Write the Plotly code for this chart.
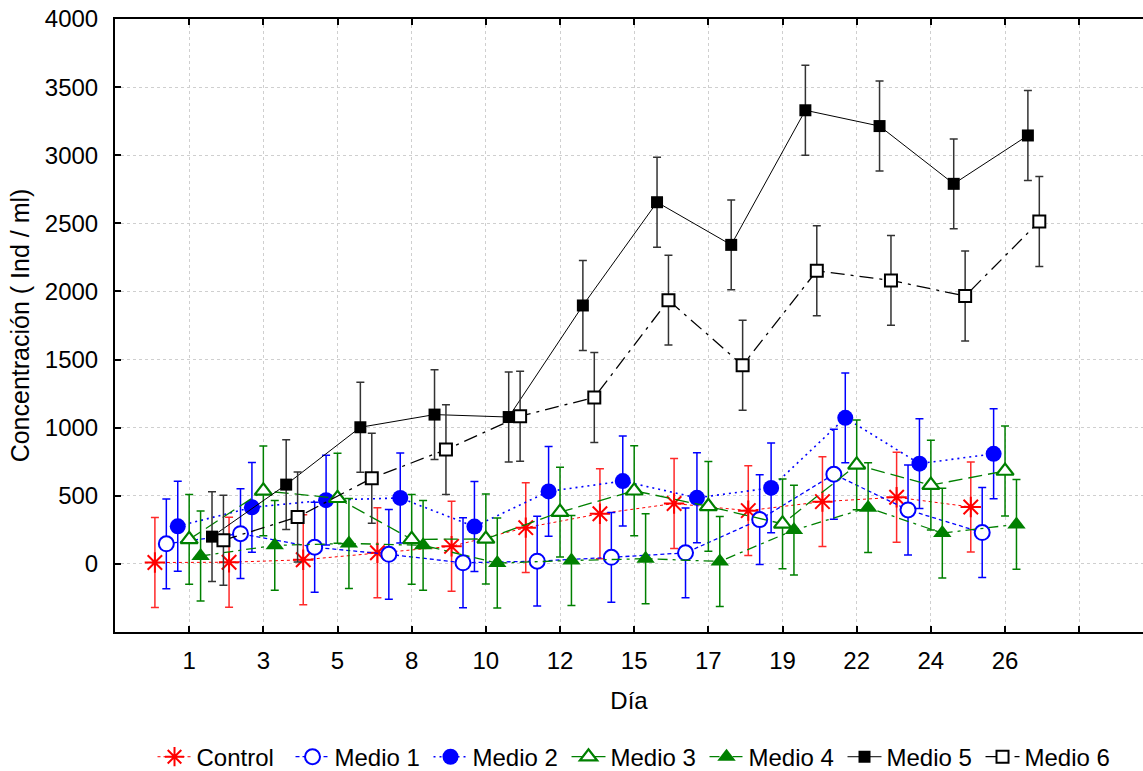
import plotly.graph_objects as go

# Sampling days (categorical x axis)
days = ["1", "3", "5", "8", "10", "12", "15", "17", "19", "22", "24", "26"]

# Mean concentration (Ind / ml) per treatment
control = [10, 12, 30, 82, 129, 266, 368, 443, 391, 457, 489, 418]
medio_1 = [147, 222, 122, 70, 8, 20, 48, 81, 325, 658, 396, 230]
medio_2 = [276, 415, 468, 484, 274, 532, 608, 485, 558, 1072, 736, 808]
medio_3 = [180, 536, 482, 180, 183, 380, 537, 422, 294, 727, 578, 682]
medio_4 = [58, 136, 150, 136, 6, 25, 38, 18, 248, 413, 226, 290]
medio_5 = [200, 582, 1003, 1096, 1078, 1897, 2655, 2342, 3330, 3214, 2790, 3145]
medio_6 = [174, 344, 629, 839, 1084, 1222, 1936, 1458, 2152, 2081, 1966, 2514]

# Half-width of the confidence interval drawn around each mean
ci_half = 330

y_ticks = [0, 500, 1000, 1500, 2000, 2500, 3000, 3500, 4000]

series_names = ["Control", "Medio 1", "Medio 2", "Medio 3", "Medio 4", "Medio 5", "Medio 6"]
series_values = [control, medio_1, medio_2, medio_3, medio_4, medio_5, medio_6]

RED, BLUE, GREEN, BLACK = "#ff0000", "#0000ff", "#008000", "#000000"

styles = [
    dict(color=RED, err="#ff2a2a", dash="dot", lw=1.0,
         marker=dict(symbol="asterisk-open", size=17, color=RED, line=dict(color=RED, width=2))),
    dict(color=BLUE, err=BLUE, dash="4px,3px", lw=1.3,
         marker=dict(symbol="circle", size=15, color="white", line=dict(color=BLUE, width=2))),
    dict(color=BLUE, err=BLUE, dash="2px,4px", lw=1.6,
         marker=dict(symbol="circle", size=16, color=BLUE, line=dict(color=BLUE, width=0))),
    dict(color=GREEN, err=GREEN, dash="14px,6px", lw=1.3,
         marker=dict(symbol="triangle-up", size=15, color="white", line=dict(color=GREEN, width=2.2))),
    dict(color=GREEN, err=GREEN, dash="10px,5px,3px,5px", lw=1.3,
         marker=dict(symbol="triangle-up", size=16, color=GREEN, line=dict(color=GREEN, width=0))),
    dict(color=BLACK, err="#333333", dash="solid", lw=1.0,
         marker=dict(symbol="square", size=12, color=BLACK, line=dict(color=BLACK, width=0))),
    dict(color=BLACK, err="#333333", dash="14px,6px,3px,6px", lw=1.3,
         marker=dict(symbol="square", size=12, color="white", line=dict(color=BLACK, width=2))),
]

FONT = "Liberation Sans, Arial, sans-serif"
n_series = len(series_names)
dodge = 0.154  # horizontal offset between treatments within a day

fig = go.Figure()
for k, (name, vals, st) in enumerate(zip(series_names, series_values, styles)):
    offset = (k - (n_series - 1) / 2) * dodge
    xs = [i + 1 + offset for i in range(len(days))]
    fig.add_trace(go.Scatter(
        x=xs, y=vals, name=name, mode="lines+markers",
        line=dict(color=st["color"], width=st["lw"], dash=st["dash"]),
        marker=st["marker"],
        error_y=dict(type="constant", value=ci_half, color=st["err"], thickness=1.5, width=4),
    ))

fig.update_layout(
    width=1143, height=771,
    margin=dict(l=115, r=0, t=19, b=139, autoexpand=False),
    paper_bgcolor="white", plot_bgcolor="white",
    font=dict(family=FONT, size=24, color="black"),
    showlegend=True,
    legend=dict(orientation="h", x=0.556, xref="container", xanchor="center",
                y=0.018, yref="container", yanchor="middle",
                font=dict(size=24), itemwidth=34, tracegroupgap=0,
                entrywidth=89, entrywidthmode="pixels",
                bgcolor="rgba(0,0,0,0)"),
)

fig.update_xaxes(
    range=[0, 13.86],
    tickmode="array",
    tickvals=list(range(1, len(days) + 2)),
    ticktext=days + [""],
    ticks="inside", ticklen=6, tickwidth=2, tickcolor="black",
    showline=True, linecolor="black", linewidth=2, mirror="ticks",
    showgrid=True, gridcolor="#cfcfcf", griddash="dot", gridwidth=1,
    zeroline=False, automargin=False,
    tickfont=dict(size=24),
    ticklabelstandoff=6,
    title=dict(text="Día", font=dict(size=24), standoff=19),
)

fig.update_yaxes(
    range=[-500, 4000],
    tickmode="array",
    tickvals=y_ticks,
    ticks="inside", ticklen=6, tickwidth=2, tickcolor="black",
    showline=True, linecolor="black", linewidth=2, mirror=False,
    showgrid=True, gridcolor="#cfcfcf", griddash="dot", gridwidth=1,
    zeroline=False, automargin=False,
    tickfont=dict(size=24),
    ticklabelstandoff=10,
    title=dict(text="Concentración ( Ind / ml)", font=dict(size=25), standoff=8),
)

fig.write_html("out.html")
